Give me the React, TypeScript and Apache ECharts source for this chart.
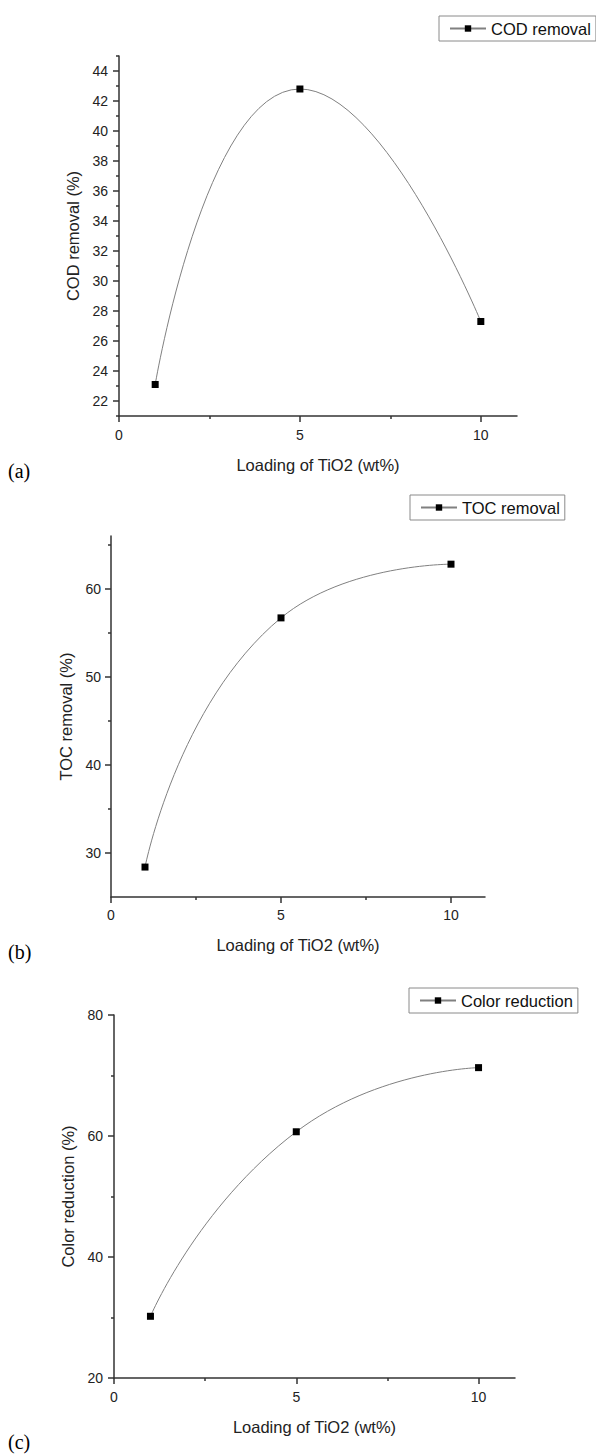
import React, { useEffect, useRef } from "react";
import * as echarts from "echarts";

// ---- data ----
const loading = [1, 5, 10];
const codRemoval = [23.1, 42.8, 27.3];
const tocRemoval = [28.4, 56.7, 62.8];
const colorReduction = [30.2, 60.7, 71.3];

const xTicks = [0, 5, 10];
const xMinorTicks = [2.5, 7.5];
const codYTicks = [22, 24, 26, 28, 30, 32, 34, 36, 38, 40, 42, 44];
const codYMinor = [21, 23, 25, 27, 29, 31, 33, 35, 37, 39, 41, 43, 45];
const tocYTicks = [30, 40, 50, 60];
const tocYMinor = [35, 45, 55, 65];
const colorYTicks = [20, 40, 60, 80];
const colorYMinor = [30, 50, 70];

const seriesNames = ["COD removal", "TOC removal", "Color reduction"];
const yTitles = ["COD removal (%)", "TOC removal (%)", "Color reduction (%)"];
const panelLabels = ["(a)", "(b)", "(c)"];
const xTitle = "Loading of TiO2 (wt%)";

const SANS = 'Arial, "Liberation Sans", sans-serif';
const SERIF = '"Times New Roman", "Liberation Serif", serif';
const AXIS = "#333";
const TEXT = "#222";

const panels = [
  {
    values: codRemoval, yMin: 21, yMax: 45, yTicks: codYTicks, yMinor: codYMinor,
    grid: { left: 119, top: 56, width: 398, height: 360 },
    legend: { left: 439, top: 16 }, yNameGap: 35, yLabelMargin: 11, xLabelMargin: 12, xNameGap: 40,
    label: { left: 8, top: 461 },
  },
  {
    values: tocRemoval, yMin: 25, yMax: 66, yTicks: tocYTicks, yMinor: tocYMinor,
    grid: { left: 111, top: 536, width: 374, height: 361 },
    legend: { left: 410, top: 495 }, yNameGap: 32, yLabelMargin: 10, xLabelMargin: 11, xNameGap: 39,
    label: { left: 8, top: 942 },
  },
  {
    values: colorReduction, yMin: 20, yMax: 80, yTicks: colorYTicks, yMinor: colorYMinor,
    grid: { left: 114, top: 1015, width: 401, height: 363 },
    legend: { left: 409, top: 988 }, yNameGap: 33, yLabelMargin: 11, xLabelMargin: 12, xNameGap: 40,
    label: { left: 8, top: 1432 },
  },
];

function buildOption() {
  const grid: any[] = [];
  const xAxis: any[] = [];
  const yAxis: any[] = [];
  const series: any[] = [];
  const legend: any[] = [];
  const graphic: any[] = [];

  panels.forEach((p, i) => {
    grid.push({ ...p.grid, containLabel: false });
    xAxis.push({
      gridIndex: i, type: "value", min: 0, max: 11, position: "bottom",
      axisLine: { show: true, onZero: false, lineStyle: { color: AXIS, width: 1.5 } },
      axisTick: { show: true, customValues: xTicks, length: 6, lineStyle: { color: AXIS, width: 1.5 } },
      axisLabel: { customValues: xTicks, fontSize: 14, color: TEXT, margin: p.xLabelMargin, fontFamily: SANS },
      splitLine: { show: false },
      name: xTitle, nameLocation: "middle", nameGap: p.xNameGap,
      nameTextStyle: { fontSize: 16.5, color: TEXT, fontFamily: SANS },
    });
    xAxis.push({
      gridIndex: i, type: "value", min: 0, max: 11, position: "bottom",
      axisLine: { show: false, onZero: false },
      axisTick: { show: true, customValues: xMinorTicks, length: 3, lineStyle: { color: AXIS, width: 1.5 } },
      axisLabel: { show: false },
      splitLine: { show: false },
    });
    yAxis.push({
      gridIndex: i, type: "value", min: p.yMin, max: p.yMax, position: "left",
      axisLine: { show: true, onZero: false, lineStyle: { color: AXIS, width: 1.5 } },
      axisTick: { show: true, customValues: p.yTicks, length: 6, lineStyle: { color: AXIS, width: 1.5 } },
      axisLabel: { customValues: p.yTicks, fontSize: 14, color: TEXT, margin: p.yLabelMargin, fontFamily: SANS },
      splitLine: { show: false },
      name: yTitles[i], nameLocation: "middle", nameGap: p.yNameGap, nameRotate: 90,
      nameTextStyle: { fontSize: 16.5, color: TEXT, fontFamily: SANS },
    });
    yAxis.push({
      gridIndex: i, type: "value", min: p.yMin, max: p.yMax, position: "left",
      axisLine: { show: false, onZero: false },
      axisTick: { show: true, customValues: p.yMinor, length: 3, lineStyle: { color: AXIS, width: 1.5 } },
      axisLabel: { show: false },
      splitLine: { show: false },
    });
    series.push({
      type: "line", name: seriesNames[i],
      xAxisIndex: 2 * i, yAxisIndex: 2 * i,
      data: loading.map((x, j) => [x, p.values[j]]),
      smooth: 0.55,
      symbol: "rect", symbolSize: 7,
      itemStyle: { color: "#000" },
      lineStyle: { color: "#808080", width: 1 },
      z: 3,
    });
    legend.push({
      data: [seriesNames[i]], left: p.legend.left, top: p.legend.top,
      orient: "horizontal", selectedMode: false,
      itemWidth: 36, itemHeight: 8, padding: [4, 5, 4, 10],
      borderColor: "#8a8a8a", borderWidth: 1, borderRadius: 0,
      textStyle: { fontSize: 16.5, color: "#111", fontFamily: SANS },
    });
    graphic.push({
      type: "text", left: p.label.left, top: p.label.top,
      style: { text: panelLabels[i], font: `20px ${SERIF}`, fill: "#000" },
    });
  });

  return {
    animation: false,
    backgroundColor: "#fff",
    grid, xAxis, yAxis, series, legend, graphic,
  };
}

export default function App() {
  const ref = useRef<HTMLDivElement>(null);
  useEffect(() => {
    if (!ref.current) return;
    const chart = echarts.init(ref.current, undefined, { renderer: "svg" });
    chart.setOption(buildOption());
    return () => chart.dispose();
  }, []);
  return (
    <div
      ref={ref}
      style={{ position: "absolute", left: 0, top: 0, width: 596, height: 1455, background: "#fff" }}
    />
  );
}
